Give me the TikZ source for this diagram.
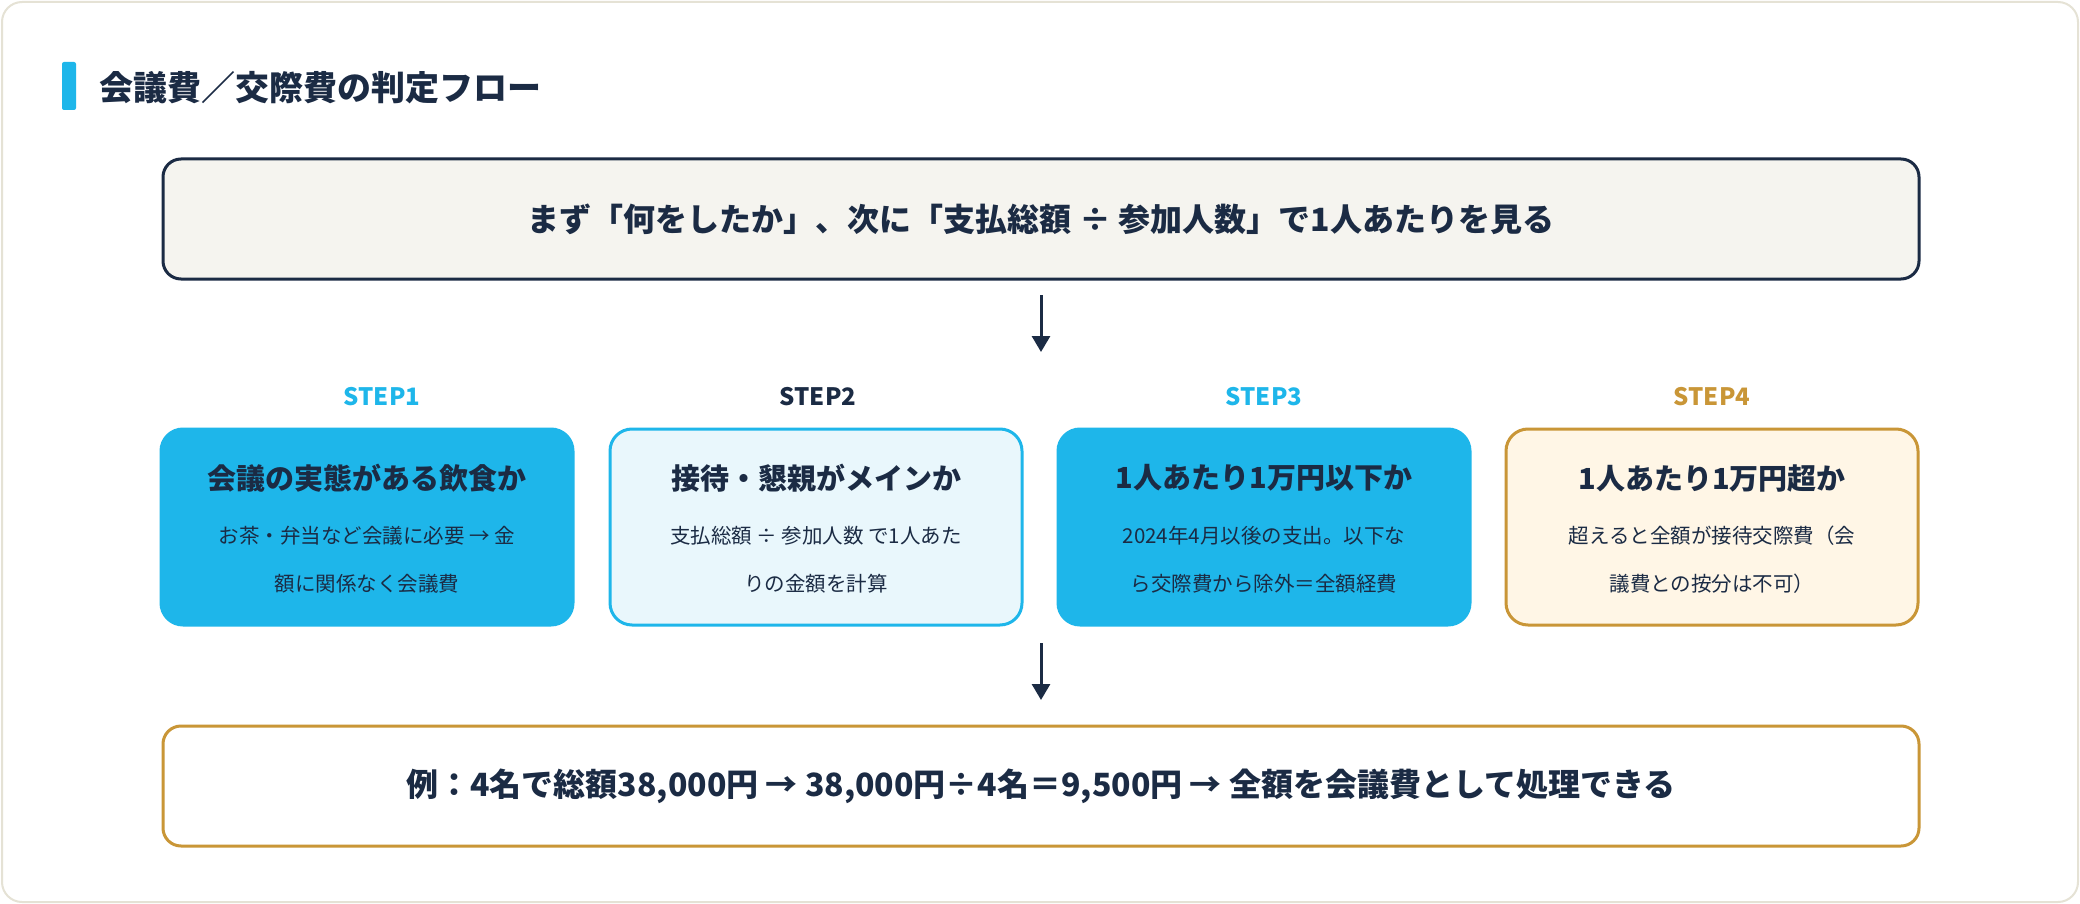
\documentclass[tikz,border=0pt]{standalone}
\usepackage{fontspec}
\setmainfont{Noto Sans CJK JP}
\usetikzlibrary{arrows.meta}
\definecolor{ink}{HTML}{1B2B44}
\definecolor{sky}{HTML}{1EB6EA}
\definecolor{skyl}{HTML}{E9F7FC}
\definecolor{gold}{HTML}{C99637}
\definecolor{goldl}{HTML}{FFF6E6}
\definecolor{paper}{HTML}{F5F4EF}
\definecolor{frame}{HTML}{E5E2D5}
\begin{document}
\begin{tikzpicture}[x=1pt,y=-1pt,
 wide/.style={draw,line width=3pt,rounded corners=18pt,minimum width=1756pt,minimum height=120pt,text=ink,font=\fontsize{32}{38}\selectfont\bfseries},
 stepbox/.style={line width=3pt,rounded corners=22pt,minimum width=412pt,minimum height=196pt,text=ink,align=center},
 slab/.style={font=\fontsize{24}{28}\selectfont\bfseries},
 ttl/.style={font=\fontsize{29}{34}\selectfont\bfseries,text=ink},
 bdy/.style={font=\fontsize{20.5}{48}\selectfont,text=ink,align=center},
 arr/.style={draw=ink,line width=3pt,-{Triangle[length=16pt,width=18pt]}}]
\useasboundingbox (0,0) rectangle (2080,904);
\draw[frame,fill=white,line width=2pt,rounded corners=20pt] (2,2) rectangle (2078,902);
\fill[sky,rounded corners=2pt] (62,62) rectangle (76,110);
\node[anchor=west,text=ink,font=\fontsize{34}{40}\selectfont\bfseries] (title) at (96,88) {会議費／交際費の判定フロー};
\node[wide,fill=paper,draw=ink] (top) at (1041,219) {まず「何をしたか」、次に「支払総額 ÷ 参加人数」で1人あたりを見る};
\coordinate (a1s) at (1041,295); \coordinate (a1e) at (1041,352);
\draw[arr] (a1s) -- (a1e);
\node[slab,text=sky] (s1) at (382,397) {STEP1};
\node[slab,text=ink] (s2) at (818,397) {STEP2};
\node[slab,text=sky] (s3) at (1264,397) {STEP3};
\node[slab,text=gold] (s4) at (1712,397) {STEP4};
\node[stepbox,fill=sky,draw=sky] (b1) at (367,527) {};
\node[stepbox,fill=skyl,draw=sky] (b2) at (816,527) {};
\node[stepbox,fill=sky,draw=sky] (b3) at (1264,527) {};
\node[stepbox,fill=goldl,draw=gold] (b4) at (1712,527) {};
\node[ttl] (t1) at (367,478) {会議の実態がある飲食か};
\node[bdy] (d1) at (367,560) {お茶・弁当など会議に必要 → 金\\額に関係なく会議費};
\node[ttl] (t2) at (816,478) {接待・懇親がメインか};
\node[bdy] (d2) at (816,560) {支払総額 ÷ 参加人数 で1人あた\\りの金額を計算};
\node[ttl] (t3) at (1264,478) {1人あたり1万円以下か};
\node[bdy] (d3) at (1264,560) {2024年4月以後の支出。以下な\\ら交際費から除外＝全額経費};
\node[ttl] (t4) at (1712,478) {1人あたり1万円超か};
\node[bdy] (d4) at (1712,560) {超えると全額が接待交際費（会\\議費との按分は不可）};
\coordinate (a2s) at (1041,643); \coordinate (a2e) at (1041,700);
\draw[arr] (a2s) -- (a2e);
\node[wide,fill=white,draw=gold] (bot) at (1041,786) {例：4名で総額38,000円 → 38,000円÷4名＝9,500円 → 全額を会議費として処理できる};
\end{tikzpicture}
\end{document}
